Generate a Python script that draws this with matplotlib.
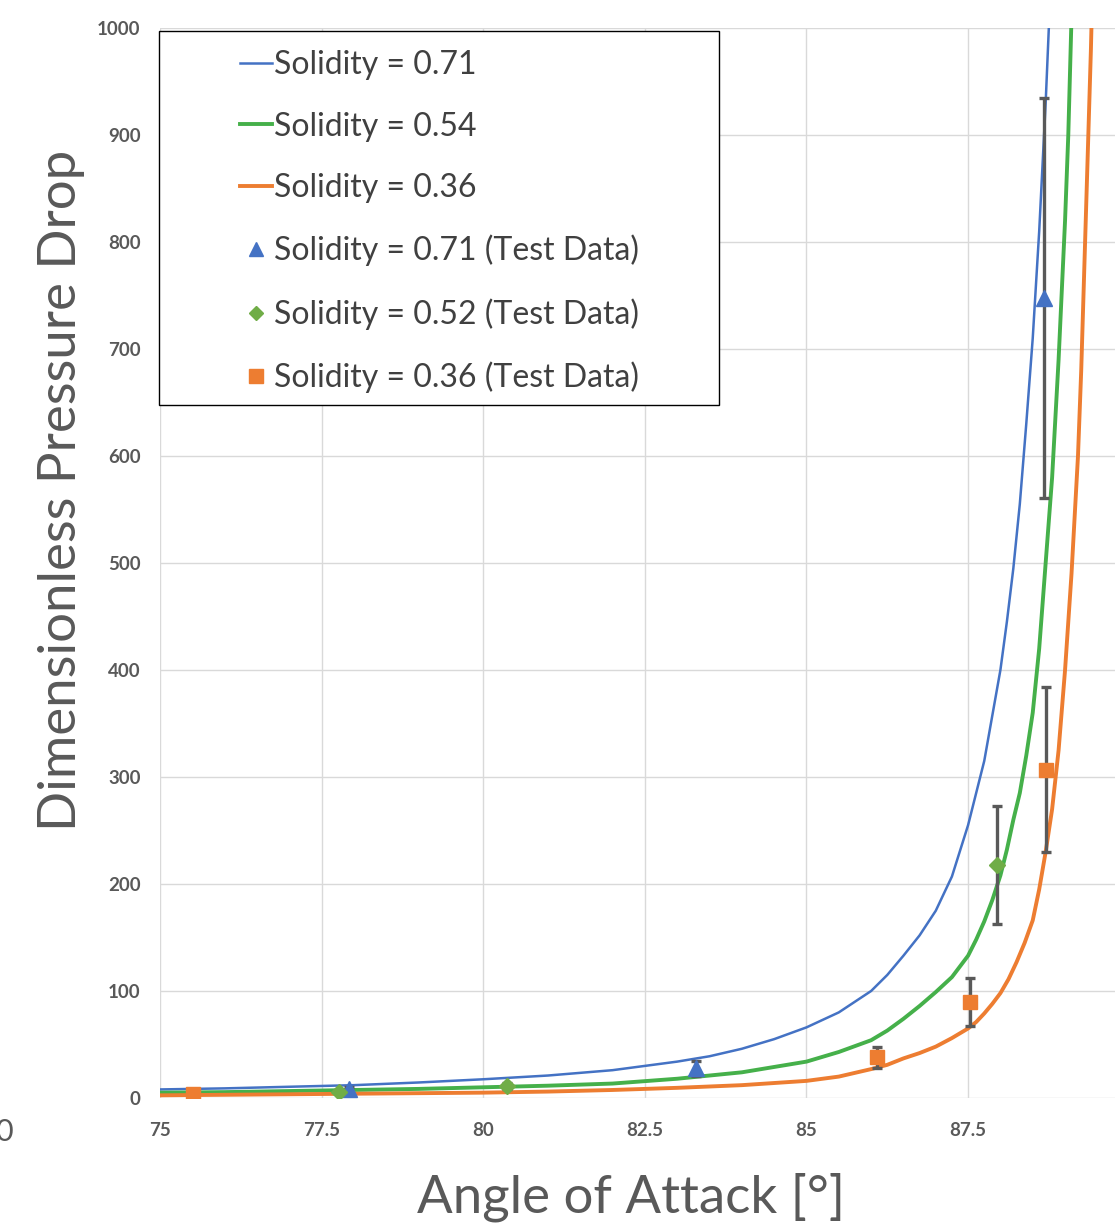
import matplotlib
matplotlib.use('Agg')
import matplotlib.pyplot as plt
from matplotlib.patches import Rectangle
from matplotlib.lines import Line2D

# ---------------- data ----------------
angle_071 = [75, 76, 77, 78, 79, 80, 81, 82, 82.5, 83, 83.5, 84, 84.5, 85, 85.5, 86,
             86.25, 86.5, 86.75, 87, 87.25, 87.5, 87.75, 88, 88.1, 88.2, 88.3, 88.4,
             88.5, 88.6, 88.7, 88.77]
dp_071 = [8, 9, 10.5, 12, 14.5, 17.5, 21, 26, 30, 34, 39, 46, 55, 66, 80, 100,
          115, 133, 152, 175, 207, 255, 315, 400, 445, 495, 555, 630,
          710, 810, 930, 1030]

angle_054 = [75, 76, 77, 78, 79, 80, 81, 82, 83, 84, 85, 85.5, 86, 86.25, 86.5, 86.75,
             87, 87.25, 87.5, 87.625, 87.75, 87.875, 88, 88.1, 88.2, 88.3, 88.4, 88.5,
             88.6, 88.7, 88.8, 88.9, 89.0, 89.05, 89.1]
dp_054 = [5, 5.5, 6.5, 7.5, 8.5, 10, 11.5, 13.5, 18, 24, 34, 43, 54, 63, 74, 86,
          99, 113, 133, 148, 165, 185, 208, 232, 260, 285, 320, 360,
          420, 500, 580, 690, 820, 900, 1010]

angle_036 = [75, 76, 77, 78, 79, 80, 81, 82, 83, 84, 85, 85.5, 86, 86.25, 86.5, 86.75,
             87, 87.25, 87.5, 87.625, 87.75, 87.875, 88, 88.125, 88.25, 88.375, 88.5,
             88.6, 88.7, 88.8, 88.9, 89.0, 89.1, 89.2, 89.25, 89.3, 89.35, 89.4, 89.42]
dp_036 = [2.5, 3, 3.5, 4, 4.5, 5, 6, 7.5, 9.5, 12, 16, 20, 27, 31, 37, 42,
          48, 56, 65, 71, 79, 88, 98, 111, 127, 145, 166,
          195, 230, 270, 325, 400, 490, 600, 680, 780, 880, 980, 1030]

test_angle_071 = [77.92, 83.29, 88.67]
test_dp_071 = [8, 28, 748]
test_err_071 = [2, 7, 187]

test_angle_052 = [77.77, 80.37, 87.95]
test_dp_052 = [6, 11, 218]
test_err_052 = [1.5, 2.8, 55]

test_angle_036 = [75.51, 86.09, 87.53, 88.71]
test_dp_036 = [4, 38, 90, 307]
test_err_036 = [1, 9.5, 22.5, 77]

line_labels = ['Solidity = 0.71', 'Solidity = 0.54', 'Solidity = 0.36']
test_labels = ['Solidity = 0.71 (Test Data)', 'Solidity = 0.52 (Test Data)',
               'Solidity = 0.36 (Test Data)']
x_ticks = [75, 77.5, 80, 82.5, 85, 87.5, 90]
x_tick_labels = ['75', '77.5', '80', '82.5', '85', '87.5', '']
y_ticks = [0, 100, 200, 300, 400, 500, 600, 700, 800, 900, 1000]

# ---------------- styling ----------------
BLUE = '#4472C4'
GREEN = '#45B04A'
GREEN_M = '#70AD47'
ORANGE = '#ED7D31'
GRAY = '#595959'
TXT = '#404040'
FONT = 'Lato'

W, H = 1115, 1228
fig = plt.figure(figsize=(W / 100, H / 100), dpi=100)
fig.patch.set_facecolor('white')


def fx(px):
    return px / W


def fy(py):
    return 1 - py / H


ax = fig.add_axes([fx(160), fy(1098), fx(1129.7) - fx(160), fy(28) - fy(1098)])
ax.set_xlim(75, 90)
ax.set_ylim(0, 1000)

for s in ax.spines.values():
    s.set_visible(False)
ax.grid(True, color='#d9d9d9', linewidth=1.0)
ax.set_axisbelow(True)

ax.plot(angle_071, dp_071, color=BLUE, lw=1.8, zorder=3)
ax.plot(angle_054, dp_054, color=GREEN, lw=2.8, zorder=3)
ax.plot(angle_036, dp_036, color=ORANGE, lw=2.8, zorder=3)

for xa, ya, ea in [(test_angle_071, test_dp_071, test_err_071),
                   (test_angle_052, test_dp_052, test_err_052),
                   (test_angle_036, test_dp_036, test_err_036)]:
    ax.errorbar(xa, ya, yerr=ea, fmt='none', ecolor=GRAY, elinewidth=2.4,
                capsize=3.5, capthick=2.4, zorder=4)

ax.plot(test_angle_071, test_dp_071, linestyle='none', marker='^', ms=11,
        color=BLUE, zorder=5)
ax.plot(test_angle_052, test_dp_052, linestyle='none', marker='D', ms=8,
        color=GREEN_M, zorder=5)
ax.plot(test_angle_036, test_dp_036, linestyle='none', marker='s', ms=10.5,
        color=ORANGE, zorder=5)

ax.set_xticks(x_ticks)
ax.set_xticklabels(x_tick_labels)
ax.set_yticks(y_ticks)
ax.tick_params(axis='both', length=0, labelcolor=GRAY)
ax.tick_params(axis='y', pad=14)
ax.tick_params(axis='x', pad=17)
for lab in ax.get_xticklabels() + ax.get_yticklabels():
    lab.set_fontfamily(FONT)
    lab.set_fontweight('bold')
    lab.set_fontsize(13.5)

# legend box
ax.add_patch(Rectangle((fx(159), fy(405)), fx(719) - fx(159), fy(31) - fy(405),
                       transform=fig.transFigure, facecolor='white',
                       edgecolor='black', linewidth=1.0, zorder=6,
                       clip_on=False))

handles = [Line2D([], [], color=BLUE, lw=1.8),
           Line2D([], [], color=GREEN, lw=2.8),
           Line2D([], [], color=ORANGE, lw=2.8),
           Line2D([], [], linestyle='none', marker='^', ms=10, color=BLUE),
           Line2D([], [], linestyle='none', marker='D', ms=7, color=GREEN_M),
           Line2D([], [], linestyle='none', marker='s', ms=9.5, color=ORANGE)]
leg = fig.legend(handles, line_labels + test_labels, loc='upper left',
                 bbox_to_anchor=(fx(240), fy(50)), frameon=False,
                 prop={'family': FONT, 'size': 23}, labelcolor=TXT,
                 handlelength=1.0, handletextpad=0.05, labelspacing=0.99,
                 borderpad=0.0, borderaxespad=0.0)
leg.set_zorder(7)

fig.text(fx(62), fy(490), 'Dimensionless Pressure Drop', rotation=90,
         ha='center', va='center', fontsize=38, color=GRAY, family=FONT)
fig.text(fx(631), fy(1197), 'Angle of Attack [°]', ha='center', va='center',
         fontsize=38, color=GRAY, family=FONT)
fig.text(fx(13), fy(1132), '0', ha='right', va='center', fontsize=22,
         color=GRAY, family=FONT)

fig.savefig('out.png', dpi=100)
